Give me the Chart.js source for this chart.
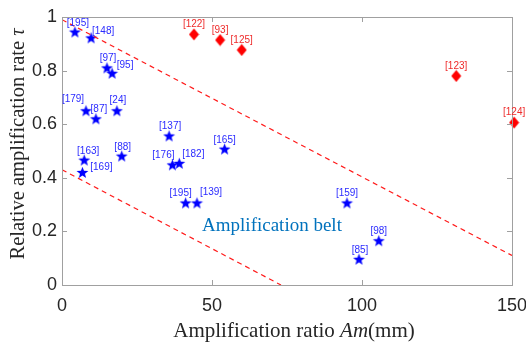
<!DOCTYPE html>
<html lang="en">
<head>
    <meta charset="UTF-8">
    <title>Amplification belt</title>
    <script src="https://cdn.jsdelivr.net/npm/chart.js@4.4.8/dist/chart.umd.min.js"></script>
    <style>
        html, body { margin: 0; padding: 0; background: #fff; }
        #wrap { width: 526px; height: 343px; }
    </style>
</head>
<body>
<div id="wrap"><canvas id="myChart" width="526" height="343"></canvas></div>

<script>
    // literature points (stars = inside belt, diamonds = outside)
    const starX = [4.3, 9.7, 15, 16.7, 8, 11.3, 18.3, 35.7, 7.4, 6.8, 19.9, 36.8, 39.1, 54.2, 41.2, 45, 95, 105.6, 99]
    const starY = [0.944, 0.922, 0.81, 0.79, 0.65, 0.62, 0.65, 0.556, 0.466, 0.42, 0.481, 0.448, 0.454, 0.507, 0.306, 0.306, 0.306, 0.165, 0.096]
    const starRefs = ['[195]', '[148]', '[97]', '[95]', '[179]', '[87]', '[24]', '[137]', '[163]', '[169]', '[88]', '[176]', '[182]', '[165]', '[195]', '[139]', '[159]', '[98]', '[85]']

    const diamondX = [44, 52.7, 59.9, 131.4, 150.7]
    const diamondY = [0.935, 0.914, 0.877, 0.78, 0.606]
    const diamondRefs = ['[122]', '[93]', '[125]', '[123]', '[124]']

    // belt boundaries
    const upperX = [0, 150]
    const upperY = [0.99, 0.11]
    const lowerX = [0, 73]
    const lowerY = [0.43, 0]

    const xTicks = [0, 50, 100, 150]
    const yTicks = [0, 0.2, 0.4, 0.6, 0.8, 1]
    const yTickLabels = ['0', '0.2', '0.4', '0.6', '0.8', '1']

    const axisColor = '#a0a0a0'
    const textColor = '#262626'
    const serif = '"Liberation Serif", "Times New Roman", serif'
    const sans = '"Liberation Sans", Arial, sans-serif'

    const toPoints = (xs, ys) => xs.map((x, i) => ({ x: x, y: ys[i] }))

    const makeStar = (color) => {
        const c = document.createElement('canvas')
        c.width = 13; c.height = 13
        const g = c.getContext('2d')
        g.fillStyle = color
        g.beginPath()
        for (let i = 0; i < 10; i++) {
            const r = i % 2 === 0 ? 6.2 : 2.6
            const a = -Math.PI / 2 + i * Math.PI / 5
            g.lineTo(6.5 + r * Math.cos(a), 6.9 + r * Math.sin(a))
        }
        g.closePath()
        g.fill()
        return c
    }

    const makeDiamond = (color) => {
        const c = document.createElement('canvas')
        c.width = 11; c.height = 13
        const g = c.getContext('2d')
        g.fillStyle = color
        g.beginPath()
        g.moveTo(5.5, 0.5); g.lineTo(10.5, 6.5); g.lineTo(5.5, 12.5); g.lineTo(0.5, 6.5)
        g.closePath()
        g.fill()
        return c
    }

    // box, inward ticks, reference labels and mixed-style titles
    const decorations = {
        id: 'decorations',
        afterDraw(chart, args, opts) {
            const { ctx, chartArea: a, scales } = chart
            ctx.save()
            ctx.strokeStyle = axisColor
            ctx.lineWidth = 1
            ctx.strokeRect(a.left + 0.5, a.top + 0.5, a.right - a.left, a.bottom - a.top)
            ctx.beginPath()
            for (const v of xTicks) {
                const px = Math.round(scales.x.getPixelForValue(v)) + 0.5
                ctx.moveTo(px, a.bottom); ctx.lineTo(px, a.bottom - 5)
                ctx.moveTo(px, a.top); ctx.lineTo(px, a.top + 5)
            }
            for (const v of yTicks) {
                const py = Math.round(scales.y.getPixelForValue(v)) + 0.5
                ctx.moveTo(a.left, py); ctx.lineTo(a.left + 5, py)
                ctx.moveTo(a.right, py); ctx.lineTo(a.right - 5, py)
            }
            ctx.stroke()

            // reference labels
            ctx.font = '10px ' + sans
            ctx.textAlign = 'center'
            ctx.textBaseline = 'middle'
            const groups = [
                { ds: 2, refs: starRefs, color: '#2b2bff', shift: opts.starShift },
                { ds: 3, refs: diamondRefs, color: '#ee2b2b', shift: opts.diamondShift }
            ]
            for (const grp of groups) {
                const meta = chart.getDatasetMeta(grp.ds)
                ctx.fillStyle = grp.color
                meta.data.forEach((pt, i) => {
                    const s = grp.shift[i] || [0, -10]
                    ctx.fillText(grp.refs[i], pt.x + s[0], pt.y + s[1])
                })
            }

            // belt annotation
            ctx.fillStyle = '#0072BD'
            ctx.font = '19px ' + serif
            ctx.fillText('Amplification belt', scales.x.getPixelForValue(70), scales.y.getPixelForValue(0.22))

            // x title: "Amplification ratio Am(mm)"
            ctx.fillStyle = textColor
            ctx.textBaseline = 'alphabetic'
            ctx.textAlign = 'left'
            const parts = [['Amplification ratio ', ''], ['Am', 'italic '], ['(mm)', '']]
            const fx = 21
            let total = 0
            for (const p of parts) { ctx.font = p[1] + fx + 'px ' + serif; total += ctx.measureText(p[0]).width }
            let x0 = 294 - total / 2
            for (const p of parts) {
                ctx.font = p[1] + fx + 'px ' + serif
                ctx.fillText(p[0], x0, 337)
                x0 += ctx.measureText(p[0]).width
            }

            // y title: "Relative amplification rate τ"
            ctx.translate(24, 144)
            ctx.rotate(-Math.PI / 2)
            const yparts = [['Relative amplification rate ', ''], ['\u03c4', 'italic ']]
            const fy = 20.5
            total = 0
            for (const p of yparts) { ctx.font = p[1] + fy + 'px ' + serif; total += ctx.measureText(p[0]).width }
            x0 = -total / 2
            for (const p of yparts) {
                ctx.font = p[1] + fy + 'px ' + serif
                ctx.fillText(p[0], x0, 0)
                x0 += ctx.measureText(p[0]).width
            }
            ctx.restore()
        }
    }

    const red = '#ff1a1a'

    const chart = new Chart(document.getElementById('myChart'), {
        type: 'scatter',
        data: {
            datasets: [
                {
                    data: toPoints(upperX, upperY),
                    showLine: true, pointRadius: 0,
                    borderColor: red, borderWidth: 1.2, borderDash: [5, 4],
                },
                {
                    data: toPoints(lowerX, lowerY),
                    showLine: true, pointRadius: 0,
                    borderColor: red, borderWidth: 1.2, borderDash: [5, 4],
                },
                {
                    data: toPoints(starX, starY),
                    pointStyle: makeStar('#0000ff'),
                    clip: false,
                },
                {
                    data: toPoints(diamondX, diamondY),
                    pointStyle: makeDiamond('#ff0000'),
                    clip: false,
                }
            ]
        },
        options: {
            responsive: false,
            animation: false,
            events: [],
            layout: { padding: { top: 17, right: 14, left: 0, bottom: 0 } },
            plugins: {
                legend: { display: false },
                tooltip: { enabled: false },
                decorations: {
                    starShift: [[3, -9], [12, -7], [1, -10], [13, -8], [-13, -12], [3, -10], [1, -11], [1, -10],
                                [4, -9], [19, -5], [1, -9], [-9, -10], [14, -9], [0, -9], [-5, -10], [14, -11],
                                [0, -10], [0, -10], [1, -9]],
                    diamondShift: []
                }
            },
            scales: {
                x: {
                    type: 'linear', min: 0, max: 150,
                    afterFit: s => { s.height = 58; s.paddingLeft = 0; s.paddingRight = 0 },
                    afterBuildTicks: s => { s.ticks = xTicks.map(v => ({ value: v })) },
                    grid: { display: false, drawTicks: false },
                    border: { display: false },
                    ticks: { font: { size: 18, family: sans }, color: textColor, padding: 10, maxRotation: 0 }
                },
                y: {
                    type: 'linear', min: 0, max: 1,
                    afterFit: s => { s.width = 62; s.paddingTop = 0; s.paddingBottom = 0 },
                    afterBuildTicks: s => { s.ticks = yTicks.map(v => ({ value: v })) },
                    grid: { display: false, drawTicks: false },
                    border: { display: false },
                    ticks: {
                        font: { size: 18, family: sans }, color: textColor, padding: 5,
                        callback: (v, i) => yTickLabels[i]
                    }
                }
            }
        },
        plugins: [decorations]
    })
</script>
</body>
</html>
